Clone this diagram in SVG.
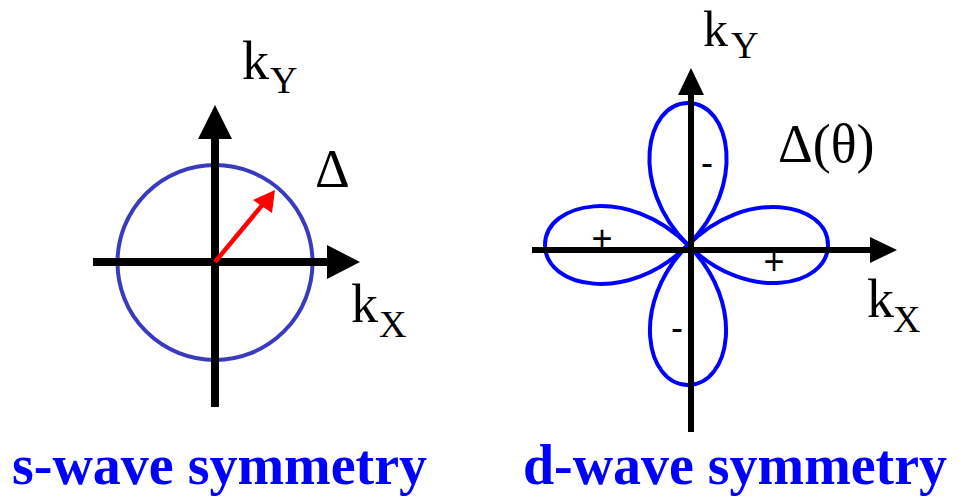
<svg xmlns="http://www.w3.org/2000/svg" width="959" height="496" viewBox="0 0 959 496">
<style>
.lbl{font-family:'Liberation Serif','Times New Roman',serif;fill:#000}
.sign{font-family:'Liberation Sans',Arial,sans-serif;fill:#000;font-size:36px}
.title{font-family:'Liberation Serif','Times New Roman',serif;font-weight:bold;fill:#0000ff;font-size:56px}
.ax{stroke:#000;fill:none}
.lobe{fill:none;stroke:#0000ff;stroke-width:4}
</style>
<rect width="959" height="496" fill="#fff"/>
<g id="s-wave">
  <g id="s-circle"><circle cx="215" cy="262.5" r="97.5" fill="none" stroke="#3a3abf" stroke-width="4"/></g>
  <g id="s-axes">
    <line class="ax" x1="93" y1="262" x2="330" y2="262" stroke-width="8"/>
    <polygon points="327,245 360,262 327,279" fill="#000"/>
    <line class="ax" x1="215" y1="407" x2="215" y2="136" stroke-width="8"/>
    <polygon points="198,139 215,105 232,139" fill="#000"/>
  </g>
  <g id="s-gap-arrow">
    <line x1="215" y1="262" x2="264" y2="203" stroke="#ff0000" stroke-width="4.5"/>
    <polygon points="275,190 253,200 272,213" fill="#ff0000"/>
  </g>
  <g id="s-labels">
    <text class="lbl" x="242" y="79" font-size="54">k</text>
    <text class="lbl" x="270" y="93" font-size="38">Y</text>
    <text class="lbl" x="351" y="322" font-size="54">k</text>
    <text class="lbl" x="379" y="337" font-size="38">X</text>
    <text class="lbl" x="315" y="187" font-size="54">Δ</text>
  </g>
  <g id="s-title"><text class="title" x="12" y="484" textLength="415" lengthAdjust="spacingAndGlyphs">s-wave symmetry</text></g>
</g>
<g id="d-wave">
  <g id="d-lobes">
    <path class="lobe" d="M688,245 C746.8,186.2 828,203 828,245 C828,287 746.8,303.8 688,245 Z"/>
    <path class="lobe" d="M688,245 C627.9,184.9 545,202.1 545,245 C545,287.9 627.9,305.1 688,245 Z"/>
    <path class="lobe" d="M688,245 C628.4,185.4 645.4,103 688,103 C730.6,103 747.6,185.4 688,245 Z"/>
    <path class="lobe" d="M688,245 C629.2,303.8 646,385 688,385 C730,385 746.8,303.8 688,245 Z"/>
  </g>
  <g id="d-axes">
    <line class="ax" x1="532" y1="250" x2="872" y2="250" stroke-width="6"/>
    <polygon points="870,237 897,250 870,263" fill="#000"/>
    <line class="ax" x1="691" y1="432" x2="691" y2="93" stroke-width="6"/>
    <polygon points="678,95 691,68 704,95" fill="#000"/>
  </g>
  <g id="d-signs">
    <text class="sign" x="707" y="175" text-anchor="middle">-</text>
    <text class="sign" x="677" y="340" text-anchor="middle">-</text>
    <text class="sign" x="602" y="251" text-anchor="middle">+</text>
    <text class="sign" x="774" y="274" text-anchor="middle">+</text>
  </g>
  <g id="d-labels">
    <text class="lbl" x="703" y="46" font-size="50">k</text>
    <text class="lbl" x="731" y="58" font-size="38">Y</text>
    <text class="lbl" x="778" y="162" font-size="54">Δ(θ)</text>
    <text class="lbl" x="867" y="317" font-size="54">k</text>
    <text class="lbl" x="893" y="332" font-size="38">X</text>
  </g>
  <g id="d-title"><text class="title" x="523" y="484" textLength="424" lengthAdjust="spacingAndGlyphs">d-wave symmetry</text></g>
</g>
</svg>
